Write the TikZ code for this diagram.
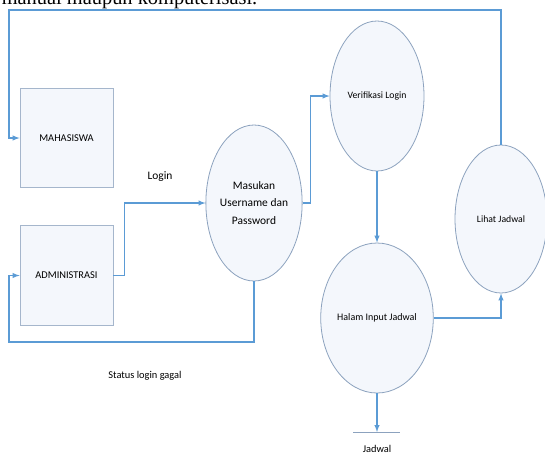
\documentclass[tikz,border=0pt]{standalone}
\usepackage{fontspec}
\setmainfont{Carlito}
\newfontfamily\bodyserif{Liberation Serif}
\usepackage{tikz}
\usetikzlibrary{shapes.geometric, arrows}
\usetikzlibrary{positioning}

\definecolor{linkblue}{RGB}{91,155,213}
\definecolor{shapeline}{RGB}{140,162,190}
\definecolor{boxline}{RGB}{165,182,204}
\definecolor{shapefill}{RGB}{244,247,252}

\tikzset{
  entity/.style={draw=boxline, fill=shapefill, line width=0.6pt, minimum width=69.75pt, minimum height=74.5pt, font=\fontsize{7.8}{9}\selectfont},
  proc/.style={ellipse, draw=shapeline, fill=shapefill, line width=0.6pt, align=center, inner sep=0pt},
  flow/.style={draw=linkblue, line width=0.8pt, -latex},
  lbl/.style={inner sep=0.75pt, font=\fontsize{7.8}{9}\selectfont}
}

\begin{document}
\begin{tikzpicture}[x=0.75pt,y=0.75pt,yscale=-1,xscale=1]
  \useasboundingbox (0,0) rectangle (545,457);

  % cut text line above the figure
  \node (head) [anchor=base west, inner sep=0pt, font=\bodyserif\fontsize{15.3}{18}\selectfont] at (1.5,4) {manual maupun komputerisasi.};

  % entities
  \node [entity] (mhs) at (66.5,138) {MAHASISWA};
  \node [entity] (adm) at (66.5,275.5) {ADMINISTRASI};

  % processes
  \node [proc, minimum width=72pt, minimum height=117pt, font=\fontsize{8.6}{13}\selectfont] (masuk) at (254,203) {Masukan\\Username dan\\Password};
  \node [proc, minimum width=70.5pt, minimum height=112.5pt, font=\fontsize{7.3}{9}\selectfont] (verif) at (377,96) {Verifikasi Login};
  \node [proc, minimum width=70.5pt, minimum height=112.5pt, font=\fontsize{7.5}{9}\selectfont] (halam) at (377,318) {Halam Input Jadwal};
  \node [proc, minimum width=69pt, minimum height=111pt, font=\fontsize{7.3}{9}\selectfont] (lihat) at (501,219) {Lihat Jadwal};

  % data store
  \coordinate (jdwl) at (353,432);
  \coordinate (jdwr) at (400,432);
  \coordinate (jdw) at (377,432);
  \draw [draw=shapeline, line width=0.6pt] (jdwl) -- (jdwr);
  \node [lbl] (jdwtxt) at (377,449) {Jadwal};

  % corners of the loops
  \coordinate (topleft) at (9,10);
  \coordinate (botleft) at (9,342);

  % flows
  \draw [flow] (adm.east) -- ++(11,0) |- (masuk.west);
  \draw [flow] (masuk.east) -- ++(8,0) |- (verif.west);
  \draw [flow] (verif.south) -- (halam.north);
  \draw [flow] (halam.east) -| (lihat.south);
  \draw [flow] (halam.south) -- (jdw);
  \draw [flow] (lihat.north) |- (topleft) |- (mhs.west);
  \draw [flow] (masuk.south) |- (botleft) |- (adm.west);

  % Label the flows
  \node [lbl, font=\fontsize{8.6}{10}\selectfont] (login) at (160,177) {Login};
  \node [lbl] (gagal) at (145,376) {Status login gagal};

\end{tikzpicture}
\end{document}
